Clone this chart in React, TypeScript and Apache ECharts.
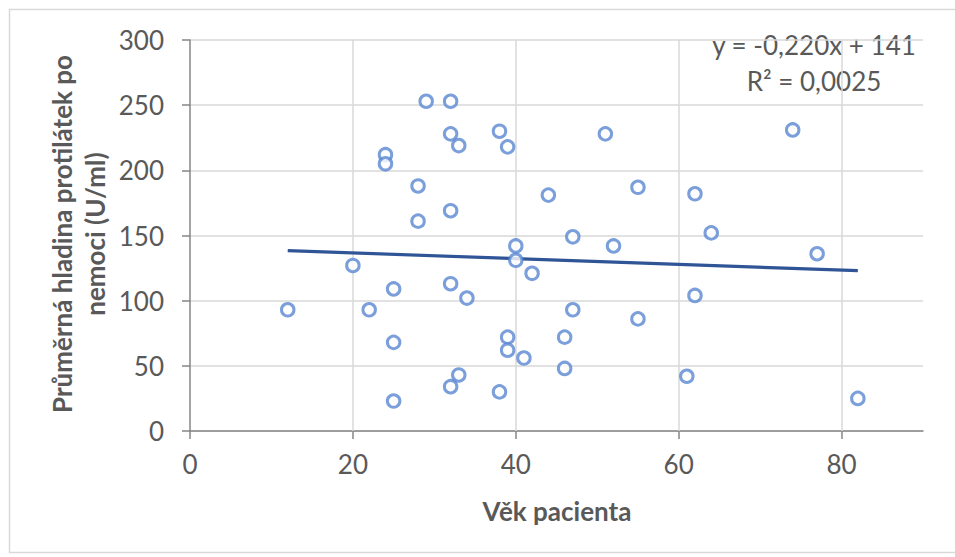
import React, { useEffect, useRef } from "react";
import * as echarts from "echarts";

const ages = [12, 20, 22, 24, 24, 25, 25, 25, 28, 28, 29, 32, 32, 32, 32, 32, 33, 33, 34, 38, 38, 39, 39, 39, 40, 40, 41, 42, 44, 46, 46, 47, 47, 51, 52, 55, 55, 61, 62, 62, 64, 74, 77, 82];
const levels = [93, 127, 93, 212, 205, 109, 68, 23, 188, 161, 253, 253, 228, 169, 113, 34, 219, 43, 102, 230, 30, 218, 72, 62, 142, 131, 56, 121, 181, 72, 48, 149, 93, 228, 142, 187, 86, 42, 182, 104, 152, 231, 136, 25];
const trendX = [12, 82];
const trendY = [138.4, 123.0];
const xTicks = [0, 20, 40, 60, 80];
const xGrid = [20, 40, 60, 80];
const yTicks = [0, 50, 100, 150, 200, 250, 300];
const xTitle = "Věk pacienta";
const yTitle = "Průměrná hladina protilátek po\nnemoci (U/ml)";
const equation = "y = -0,220x + 141";
const r2 = "R² = 0,0025";

const FONT = "Lato, 'Noto Sans', sans-serif";
const TEXT = "#595959";

export default function App() {
  const ref = useRef<HTMLDivElement>(null);
  useEffect(() => {
    if (!ref.current) return;
    const chart = echarts.init(ref.current, undefined, { renderer: "svg" });
    const pts = ages.map((a, i) => [a, levels[i]]);
    const trend = trendX.map((x, i) => [x, trendY[i]]);
    chart.setOption({
      animation: false,
      backgroundColor: "#fff",
      textStyle: { fontFamily: FONT },
      grid: { left: 190, right: 32, top: 40, bottom: 126 },
      xAxis: {
        type: "value",
        min: 0,
        max: 90,
        interval: 20,
        axisLine: { show: true, lineStyle: { color: "#868686", width: 1.5 } },
        axisTick: {
          show: true,
          length: 8,
          inside: false,
          customValues: xTicks,
          lineStyle: { color: "#868686", width: 1.5 },
        },
        axisLabel: {
          fontSize: 26,
          color: TEXT,
          margin: 20,
          fontFamily: FONT,
          customValues: xTicks,
          formatter: (v: number) => (xTicks.includes(v) ? String(v) : ""),
        },
        splitLine: { show: false },
      },
      yAxis: {
        type: "value",
        min: 0,
        max: 300,
        interval: 50,
        axisLine: { show: true, lineStyle: { color: "#868686", width: 1.5 } },
        axisTick: { show: true, length: 8, inside: false, lineStyle: { color: "#868686", width: 1.5 } },
        axisLabel: {
          fontSize: 26,
          color: TEXT,
          margin: 26,
          fontFamily: FONT,
          formatter: (v: number) => (yTicks.includes(v) ? String(v) : ""),
        },
        splitLine: { show: true, lineStyle: { color: "#d9d9d9", width: 1.5 } },
      },
      series: [
        {
          type: "line",
          data: trend,
          symbol: "none",
          lineStyle: { color: "#2F5597", width: 3.2 },
          z: 2,
          markLine: {
            silent: true,
            symbol: "none",
            label: { show: false },
            lineStyle: { color: "#d9d9d9", width: 1.5, type: "solid" },
            data: xGrid.map((v) => ({ xAxis: v })),
            z: 1,
          },
        },
        {
          type: "scatter",
          data: pts,
          symbol: "circle",
          symbolSize: 12.5,
          itemStyle: { color: "#ffffff", borderColor: "#5A87D1", borderWidth: 3 },
          z: 3,
        },
      ],
      graphic: [
        {
          type: "rect",
          left: 7,
          top: 7,
          shape: { width: 952, height: 543 },
          style: { fill: "none", stroke: "#d9d9d9", lineWidth: 1.5 },
          silent: true,
        },
        {
          type: "text",
          x: 78,
          y: 234,
          rotation: Math.PI / 2,
          style: {
            text: yTitle,
            font: `bold 26px ${FONT}`,
            fill: TEXT,
            align: "center",
            verticalAlign: "middle",
            lineHeight: 33,
          },
        },
        {
          type: "text",
          x: 557,
          y: 511,
          style: {
            text: xTitle,
            font: `bold 26px ${FONT}`,
            fill: TEXT,
            align: "center",
            verticalAlign: "middle",
          },
        },
        {
          type: "text",
          x: 814,
          y: 45,
          style: {
            text: equation,
            font: `26px ${FONT}`,
            fill: TEXT,
            align: "center",
            verticalAlign: "middle",
          },
        },
        {
          type: "text",
          x: 814,
          y: 81,
          style: {
            text: r2,
            font: `26px ${FONT}`,
            fill: TEXT,
            align: "center",
            verticalAlign: "middle",
          },
        },
      ],
    });
    return () => chart.dispose();
  }, []);
  return (
    <div
      ref={ref}
      style={{ position: "fixed", left: 0, top: 0, width: 955, height: 557, background: "#fff" }}
    />
  );
}
